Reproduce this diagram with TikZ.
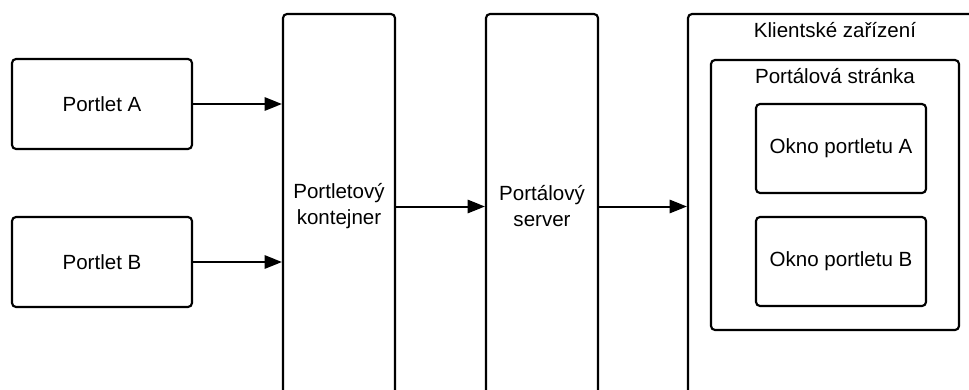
\documentclass[tikz,border=0pt]{standalone}
\usepackage{fontspec}
\setmainfont{Liberation Sans}
\usetikzlibrary{arrows.meta}
\begin{document}
\begin{tikzpicture}[x=0.75pt,y=-0.75pt,
  txt/.style={font=\fontsize{15.4}{19.5}\selectfont, align=center, inner sep=0pt},
  box/.style={txt, draw, line width=1.6pt, rounded corners=3pt},
  conn/.style={line width=1.5pt, -{Triangle[length=13pt,width=10pt]}}]
\useasboundingbox (0,0) rectangle (969,389);
\clip (0,0) rectangle (969,389);
% portlets
\node[box, minimum width=135pt, minimum height=67.5pt] (pa) at (102,104) {Portlet A};
\node[box, minimum width=135pt, minimum height=67.5pt] (pb) at (102,262) {Portlet B};
% container and portal server (run past the lower edge)
\node[box, minimum width=84pt, minimum height=288.75pt] (pc) at (339,206.5) {Portletový\\kontejner};
\node[box, minimum width=84pt, minimum height=288.75pt] (ps) at (542,206.5) {Portálový\\server};
% client device
\node[box, minimum width=226.5pt, minimum height=304.5pt] (cd) at (839,217) {};
\node[txt] (cdl) at (835,30) {Klientské zařízení};
\node[box, minimum width=186pt, minimum height=202.5pt] (pg) at (835,195) {};
\node[txt] (pgl) at (835,76) {Portálová stránka};
\node[box, minimum width=127.5pt, minimum height=66.75pt] (wa) at (841,148.5) {Okno portletu A};
\node[box, minimum width=127.5pt, minimum height=66.75pt] (wb) at (841,261.5) {Okno portletu B};
% connectors
\draw[conn] (pa.east) -- (pa.east -| pc.west);
\draw[conn] (pb.east) -- (pb.east -| pc.west);
\draw[conn] (pc.east) -- (ps.west);
\draw[conn] (ps.east) -- (ps.east -| cd.west);
\end{tikzpicture}
\end{document}
